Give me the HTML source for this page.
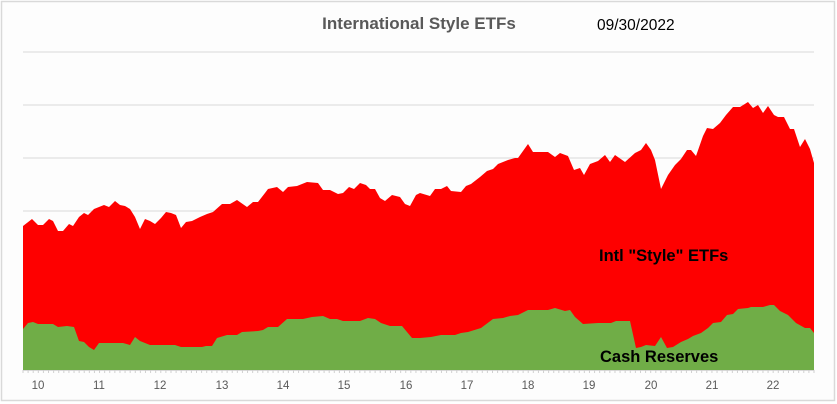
<!DOCTYPE html>
<html><head><meta charset="utf-8"><style>
body{margin:0;background:#fff;}
svg{display:block;font-family:"Liberation Sans",Arial,sans-serif;}
</style></head><body>
<svg id="chart" width="837" height="404" viewBox="0 0 837 404">
<rect x="1.5" y="1.5" width="833" height="399" fill="#fdfdfd" stroke="#d9d9d9" stroke-width="1.5"/>
<g id="grid"></g>
<g id="areas"></g>
<g id="xaxis"></g>
<text x="419" y="29" text-anchor="middle" font-size="17" font-weight="bold" fill="#595959">International Style ETFs</text>
<text x="597" y="30" font-size="15.5" fill="#000">09/30/2022</text>
<text x="599" y="261" font-size="16.5" font-weight="bold" fill="#000">Intl "Style" ETFs</text>
<text x="600" y="362" font-size="16.5" font-weight="bold" fill="#000">Cash Reserves</text>
</svg>
<script>
const redT=[0,9,15,20,26,30,35,40,46,50,56,61,65,71,76,81,86,92,97,102,107,112,117,122,127,132,138,143,148,153,158,163,169,177,184,190,199,207,214,224,230,235,242,245,254,260,265,274,284,295,300,307,315,320,326,331,337,343,347,352,357,362,369,377,382,387,393,397,407,412,418,424,428,438,443,448,457,464,470,475,485,492,495,500,505,510,525,532,537,545,551,557,561,567,575,582,587,592,602,612,618,623,628,632,638,645,652,658,664,668,673,680,684,690,697,703,710,717,725,730,735,740,745,751,755,761,767,771,777,782,787,791];
const redV=[144,151,145,145,151,149,139,139,146,144,153,157,155,161,163,165,163,169,165,164,161,153,141,151,149,146,152,158,157,155,142,148,149,153,156,158,166,166,170,163,168,168,177,181,183,178,183,184,188,187,180,180,176,177,183,181,187,185,181,181,172,169,175,173,166,164,175,177,174,181,181,184,179,178,184,186,193,199,201,206,210,212,212,219,226,218,218,213,217,214,200,202,195,206,209,215,208,215,208,217,220,227,220,210,181,195,205,211,220,220,214,234,242,241,247,255,263,263,268,262,265,257,264,255,253,253,241,241,223,231,221,207];
const cashT=[0,5,10,15,30,35,44,51,56,61,66,71,76,100,107,112,117,127,152,158,179,183,189,194,204,214,219,235,240,245,255,264,280,289,300,307,314,320,337,345,352,358,367,379,389,397,408,418,432,438,445,458,470,480,487,495,505,525,532,542,547,552,560,575,588,593,607,613,618,623,632,638,644,650,658,665,670,678,685,690,698,704,710,715,725,728,740,747,751,757,765,773,782,787,791];
const cashV=[41,47,48,46,46,43,44,43,29,28,23,20,27,27,25,33,29,25,25,23,23,24,24,32,35,35,38,39,40,43,43,51,51,53,54,51,51,49,49,52,51,47,44,44,32,32,33,35,35,37,38,42,51,52,54,55,60,60,62,59,60,53,46,47,47,49,49,22,23,25,24,33,22,23,28,31,34,37,42,47,48,55,56,61,62,63,63,65,65,59,55,47,42,42,37];
const yearLabels=["10","11","12","13","14","15","16","17","18","19","20","21","22"];
const yearPos=[15,76,137,199,260,321,383,444,505,566,628,689,750];
const gridVals=[53,106,159,212,265,318];

const NS="http://www.w3.org/2000/svg";
const X0=23,X1=814,Y0=370;
const xs=t=>X0+t*(X1-X0)/791;
const ys=v=>Y0-v;
function mk(tag,attrs,parent){const e=document.createElementNS(NS,tag);for(const k in attrs)e.setAttribute(k,attrs[k]);parent.appendChild(e);return e;}
const grid=document.getElementById('grid');
gridVals.forEach(g=>{
 const l=mk('line',{x1:X0,x2:X1,y1:ys(g),y2:ys(g),stroke:'#d9d9d9','stroke-width':1},grid);
 
 
});
function area(T,V,color,name){
 let d=`M${xs(T[0])},${Y0}`;
 T.forEach((t,i)=>{d+=` L${xs(t).toFixed(1)},${ys(V[i]).toFixed(1)}`;});
 d+=` L${xs(T[T.length-1])},${Y0} Z`;
 const p=mk('path',{d:d,fill:color},document.getElementById('areas'));
 
 
}
area(redT,redV,'#fe0000','area-intl-style-etfs');
area(cashT,cashV,'#70ad47','area-cash-reserves');
const ax=document.getElementById('xaxis');
const base=mk('line',{x1:X0,x2:X1,y1:Y0+0.5,y2:Y0+0.5,stroke:'#d9d9d9','stroke-width':1},ax);


for(let m=0;m<=155;m++){
 const x=X0+m*(X1-X0)/155;
 const tk=mk('line',{x1:x,x2:x,y1:Y0,y2:Y0+3,stroke:'#d0d0d0','stroke-width':1},ax);
 
 
}
yearLabels.forEach((lab,i)=>{
 const t=mk('text',{x:xs(yearPos[i]),y:389,'text-anchor':'middle','font-size':11.5,fill:'#595959'},ax);
 t.textContent=lab;
 
 
});
</script>
</body></html>
